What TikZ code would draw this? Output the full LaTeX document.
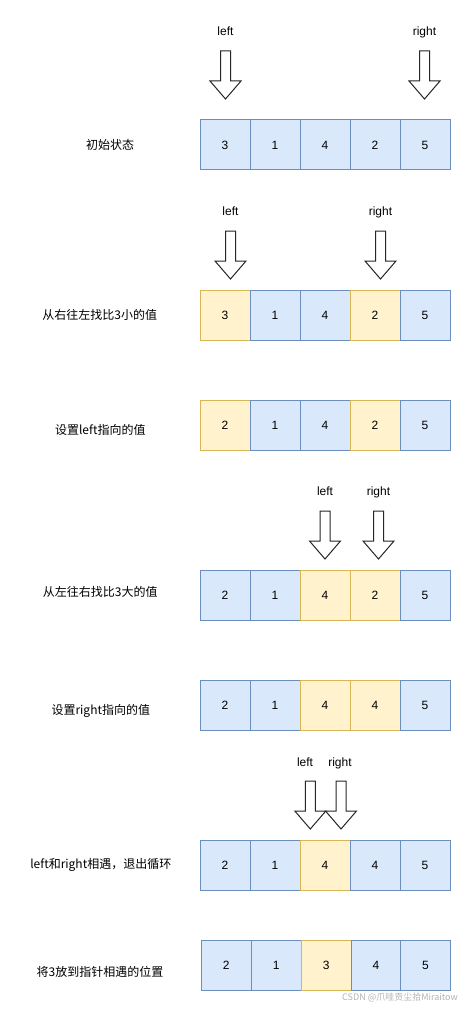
\documentclass[tikz,border=0pt]{standalone}
\usepackage{fontspec}
\setmainfont{Liberation Sans}
\newfontfamily\cjk{Noto Sans CJK SC}
\definecolor{bfill}{HTML}{DAE8FC}
\definecolor{bdraw}{HTML}{6C8EBF}
\definecolor{yfill}{HTML}{FFF2CC}
\definecolor{ydraw}{HTML}{D6B656}
\definecolor{wmark}{HTML}{B4B4B4}
\tikzset{
  cell/.style={draw=bdraw, fill=bfill, minimum width=50pt, minimum height=50pt, inner sep=0pt, line width=1pt, font=\fontsize{12}{14}\selectfont},
  hcell/.style={cell, draw=ydraw, fill=yfill},
  lbl/.style={font=\cjk\fontsize{12}{14}\selectfont, inner sep=0pt},
  ptrlbl/.style={font=\fontsize{12}{14}\selectfont, inner sep=0pt, anchor=base},
  ptr/.style={draw=black!85, fill=white, line width=1pt, line join=miter}
}
\newcommand\ptrarrow[2]{%
  \draw[ptr] (#1-5,#2) -- (#1+5,#2) -- (#1+5,#2+30) -- (#1+15.5,#2+30) -- (#1,#2+48) -- (#1-15.5,#2+30) -- (#1-5,#2+30) -- cycle;}
\begin{document}
\begin{tikzpicture}[x=1pt,y=-1pt]
\useasboundingbox[fill=white] (0,0) rectangle (471,1011);

% ---------- row 1 ----------
\node[ptrlbl] (l1) at (225.5,35.3) {left};
\node[ptrlbl] (g1) at (424.5,35.3) {right};
\ptrarrow{225.5}{51}
\ptrarrow{424.5}{51}
\node[lbl] (t1) at (110,145) {初始状态};
\node[cell] (r1c1) at (225,145) {3};
\node[cell] (r1c2) at (275,145) {1};
\node[cell] (r1c3) at (325,145) {4};
\node[cell] (r1c4) at (375,145) {2};
\node[cell] (r1c5) at (425,145) {5};

% ---------- row 2 ----------
\node[ptrlbl] (l2) at (230.5,215.3) {left};
\node[ptrlbl] (g2) at (380.5,215.3) {right};
\ptrarrow{230.5}{231}
\ptrarrow{380.5}{231}
\node[lbl] (t2) at (99.7,315) {从右往左找比3小的值};
\node[hcell] (r2c1) at (225,315) {3};
\node[cell] (r2c2) at (275,315) {1};
\node[cell] (r2c3) at (325,315) {4};
\node[hcell] (r2c4) at (375,315) {2};
\node[cell] (r2c5) at (425,315) {5};

% ---------- row 3 ----------
\node[lbl] (t3) at (100.3,430) {设置left指向的值};
\node[hcell] (r3c1) at (225,425) {2};
\node[cell] (r3c2) at (275,425) {1};
\node[cell] (r3c3) at (325,425) {4};
\node[hcell] (r3c4) at (375,425) {2};
\node[cell] (r3c5) at (425,425) {5};

% ---------- row 4 ----------
\node[ptrlbl] (l4) at (325,495.3) {left};
\node[ptrlbl] (g4) at (378.5,495.3) {right};
\ptrarrow{325}{511}
\ptrarrow{378.5}{511}
\node[lbl] (t4) at (100.3,591.5) {从左往右找比3大的值};
\node[cell] (r4c1) at (225,595) {2};
\node[cell] (r4c2) at (275,595) {1};
\node[hcell] (r4c3) at (325,595) {4};
\node[hcell] (r4c4) at (375,595) {2};
\node[cell] (r4c5) at (425,595) {5};

% ---------- row 5 ----------
\node[lbl] (t5) at (100.8,710.7) {设置right指向的值};
\node[cell] (r5c1) at (225,705) {2};
\node[cell] (r5c2) at (275,705) {1};
\node[hcell] (r5c3) at (325,705) {4};
\node[hcell] (r5c4) at (375,705) {4};
\node[cell] (r5c5) at (425,705) {5};

% ---------- row 6 ----------
\node[ptrlbl] (l6) at (305,766) {left};
\node[ptrlbl] (g6) at (340,766) {right};
\ptrarrow{310.3}{781}
\ptrarrow{341}{781}
\node[lbl] (t6) at (100.8,865) {left和right相遇，退出循环};
\node[cell] (r6c1) at (225,865) {2};
\node[cell] (r6c2) at (275,865) {1};
\node[hcell] (r6c3) at (325,865) {4};
\node[cell] (r6c4) at (375,865) {4};
\node[cell] (r6c5) at (425,865) {5};

% ---------- row 7 ----------
\node[lbl] (t7) at (100,971.7) {将3放到指针相遇的位置};
\node[cell] (r7c1) at (226.3,965.5) {2};
\node[cell] (r7c2) at (276.3,965.5) {1};
\node[hcell] (r7c3) at (326.3,965.5) {3};
\node[cell] (r7c4) at (376,965.5) {4};
\node[cell] (r7c5) at (425.5,965.5) {5};

% watermark
\node[font=\cjk\fontsize{9}{10}\selectfont, text=wmark, inner sep=0pt] (wm) at (400,997) {CSDN @爪哇贡尘拾Miraitow};
\end{tikzpicture}
\end{document}
